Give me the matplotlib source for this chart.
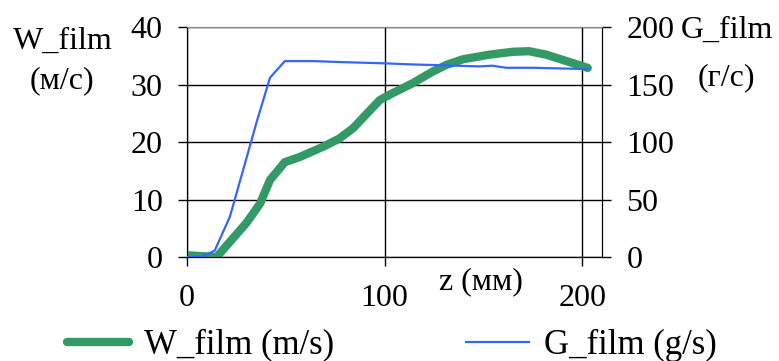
import numpy as np
import matplotlib.pyplot as plt

plt.rcParams['font.family'] = ['Liberation Serif', 'DejaVu Serif']

# W_film, m/s (left axis)
z_w = [0, 15, 30, 37, 42, 49.5, 57, 69, 77, 84, 97.5, 104, 114, 124, 131, 139.6, 153, 164.8, 173, 181.7, 191.8, 202.7]
w_film = [0.3, 0, 5.9, 9.3, 13.4, 16.5, 17.4, 19.2, 20.6, 22.4, 27.3, 28.5, 30.2, 32.2, 33.4, 34.4, 35.2, 35.7, 35.8, 35.2, 34.1, 32.9]

# G_film, g/s (right axis)
z_g = [0, 7, 14, 21.7, 28.4, 35, 42, 49.5, 64, 77, 101, 114, 124, 136, 148, 154.5, 161.5, 175, 182, 202.7]
g_film = [0, 0, 5.5, 35, 75.6, 116, 156, 170.4, 170.4, 169.6, 168.4, 167.5, 167, 166.4, 165.8, 166.4, 164.6, 164.6, 164.3, 163.5]

green = '#339966'
blue = '#3366ff'
fs = 23

fig = plt.figure(figsize=(7.79, 3.61), dpi=100)
ax = fig.add_axes([0.240, 0.288, 0.533, 0.637])
ax2 = ax.twinx()

l1, = ax.plot(z_w, w_film, color=green, lw=6, solid_capstyle='round', label='W_film (m/s)', zorder=3)
l2, = ax2.plot(z_g, g_film, color=blue, lw=1.6, label='G_film (g/s)', zorder=4)

ax.set_xlim(0, 210)
ax.set_ylim(0, 40)
ax2.set_ylim(0, 200)
ax.set_xticks([0, 100, 200])
ax.set_yticks([0, 10, 20, 30, 40])
ax2.set_yticks([0, 50, 100, 150, 200])

ax.grid(True, color='black', lw=1)
ax.set_axisbelow(True)
for a in (ax, ax2):
    a.spines['top'].set_color('#888888')
    a.tick_params(labelsize=fs, length=6.5, width=1, direction='out', pad=11)
ax.tick_params(axis='x', pad=13)

ax.text(0.708, -0.109, 'z (мм)', transform=ax.transAxes, fontsize=fs, ha='center', va='center')

fig.text(0.080, 0.886, 'W_film', fontsize=fs, ha='center', va='center')
fig.text(0.080, 0.776, '(м/с)', fontsize=fs, ha='center', va='center')
fig.text(0.933, 0.915, 'G_film', fontsize=fs, ha='center', va='center')
fig.text(0.932, 0.784, '(г/с)', fontsize=fs, ha='center', va='center')

fig.legend(handles=[l1, l2], loc='center', bbox_to_anchor=(0.503, 0.044), ncol=2,
           frameon=False, fontsize=25, handlelength=1.79, columnspacing=3.8,
           handletextpad=0.43, borderpad=0, borderaxespad=0)

fig.savefig('out.png', dpi=100)
